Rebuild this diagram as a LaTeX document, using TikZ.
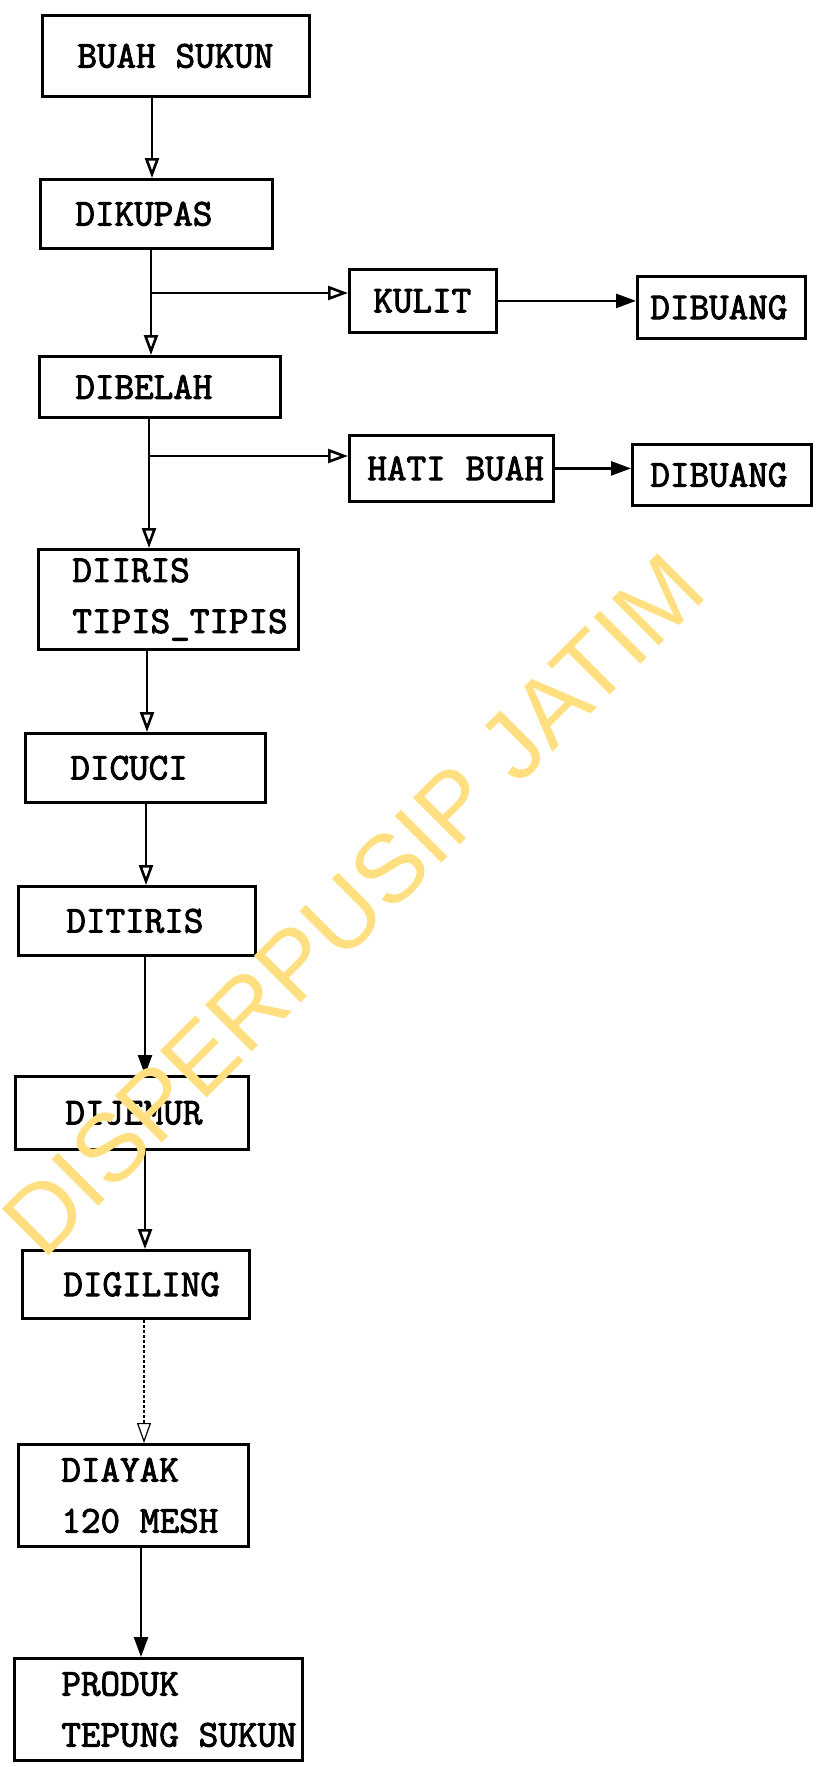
\documentclass[tikz,border=0pt]{standalone}
\usepackage{fontspec}
\usetikzlibrary{arrows.meta}
\newfontfamily\boxfont{Latin Modern Mono}[FakeBold=2.5]
\newfontfamily\wmfont{Liberation Sans}
\newcommand\tgap{\hspace{.525em}}
\definecolor{wmyellow}{RGB}{255,223,128}
\tikzset{
  stepbox/.style={draw,line width=2.8pt,anchor=north west,align=left,
    font=\boxfont\fontsize{38}{51}\selectfont},
  flow/.style={-{Triangle[open,length=20pt,width=14pt]},line width=2.6pt},
  flowfill/.style={-{Triangle[length=20pt,width=14pt]},line width=2.6pt},
  wmark/.style={rotate=45,text=wmyellow,font=\wmfont\fontsize{96}{96}\selectfont}
}
\begin{document}
\begin{tikzpicture}[x=1pt,y=-1pt]
\useasboundingbox (0,0) rectangle (821,1767);
% main column
\node[stepbox,minimum height=81pt,text width=197pt,inner xsep=35pt] (buah) at (41,14) {\hbox{BUAH\tgap SUKUN}};
\node[stepbox,minimum height=69pt,text width=162pt,inner xsep=35pt] (kupas) at (39,178) {DIKUPAS};
\node[stepbox,minimum height=61pt,text width=169pt,inner xsep=36pt] (belah) at (38,355) {DIBELAH};
\node[stepbox,minimum height=100pt,text width=192pt,inner xsep=34pt] (iris) at (37,548) {DIIRIS\\TIPIS\_TIPIS};
\node[stepbox,minimum height=69pt,text width=150pt,inner xsep=45pt] (cuci) at (24,732) {DICUCI};
\node[stepbox,minimum height=69pt,text width=141pt,inner xsep=48pt] (tiris) at (17,885) {DITIRIS};
\node[stepbox,minimum height=73pt,text width=133pt,inner xsep=50pt] (jemur) at (14,1075) {DIJEMUR};
\node[stepbox,minimum height=68pt,text width=145pt,inner xsep=41pt] (giling) at (21,1249) {DIGILING};
\node[stepbox,minimum height=102pt,text width=144pt,inner xsep=43pt] (ayak) at (17,1443) {DIAYAK\\\hbox{120\tgap MESH}};
\node[stepbox,minimum height=102pt,text width=194pt,inner xsep=47pt] (produk) at (13,1657) {PRODUK\\\hbox{TEPUNG\tgap SUKUN}};
% side branches
\node[stepbox,minimum height=63pt,text width=99pt,inner xsep=24pt] (kulit) at (348,268) {KULIT};
\node[stepbox,minimum height=62pt,text width=142pt,inner xsep=13pt] (buang1) at (636,275) {DIBUANG};
\node[stepbox,minimum height=66pt,text width=168pt,inner xsep=18pt] (hati) at (348,434) {\hbox{HATI\tgap BUAH}};
\node[stepbox,minimum height=61pt,text width=143pt,inner xsep=18pt] (buang2) at (631,443) {DIBUANG};
\coordinate (fork1) at (151,293);
\coordinate (fork2) at (149,456);
% connectors
\draw[flow] (buah.south -| 152,0) -- (kupas.north -| 152,0);
\draw[flow] (kupas.south -| 151,0) -- (belah.north -| 151,0);
\draw[flow] (fork1) -- (kulit.west |- fork1);
\draw[flowfill] (kulit.east) -- (kulit.east -| buang1.west);
\draw[flow] (belah.south -| 149,0) -- (iris.north -| 149,0);
\draw[flow] (fork2) -- (hati.west |- fork2);
\draw[flowfill] (hati.east) -- (hati.east -| buang2.west);
\draw[flow] (iris.south -| 147,0) -- (cuci.north -| 147,0);
\draw[flow] (cuci.south -| 146,0) -- (tiris.north -| 146,0);
\draw[flowfill] (tiris.south -| 145,0) -- (jemur.north -| 145,0);
\draw[flow] (jemur.south -| 145,0) -- (giling.north -| 145,0);
\draw[flow,line width=1.2pt,densely dashed] (giling.south -| 144,0) -- (ayak.north -| 144,0);
\draw[flowfill] (ayak.south -| 141,0) -- (produk.north -| 141,0);
% watermark
\node[wmark] (wm) at (353,905) {DISPERPUSIP JATIM};
\end{tikzpicture}
\end{document}
